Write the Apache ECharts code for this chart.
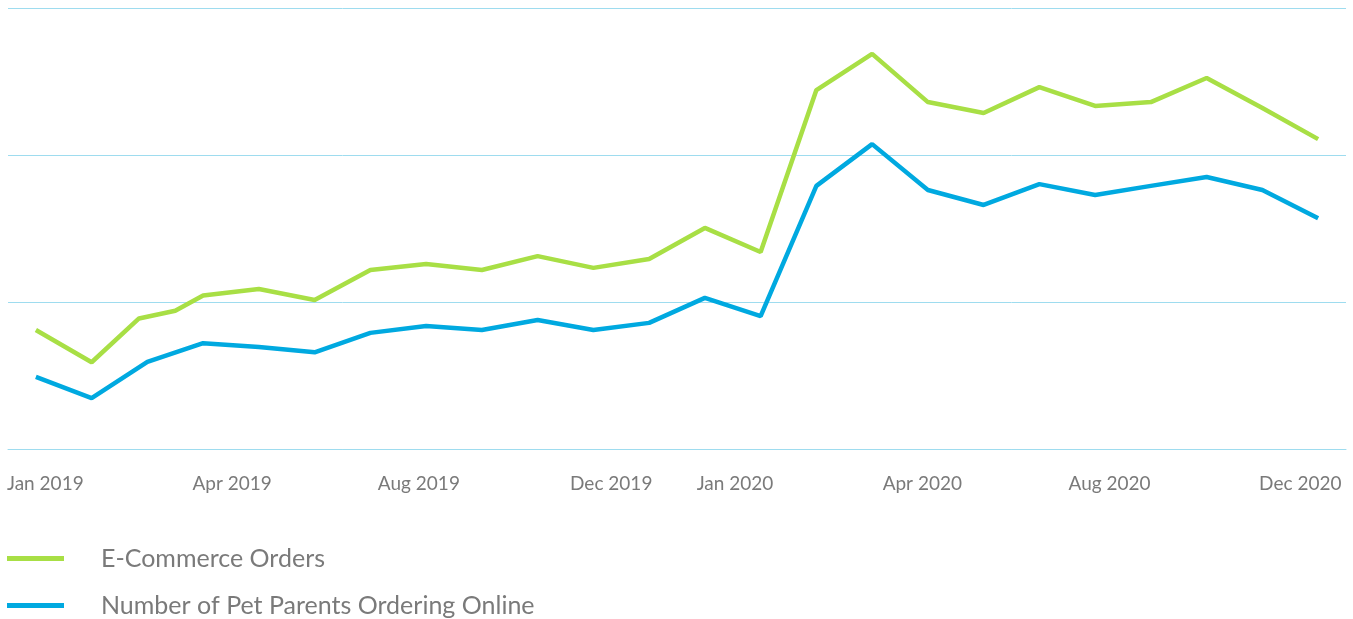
<!DOCTYPE html>
<html>
<head>
<meta charset="utf-8">
<script src="https://cdn.jsdelivr.net/npm/echarts@6/dist/echarts.min.js"></script>
<style>
  html, body { margin: 0; padding: 0; background: #fff; }
  #chart { width: 1353px; height: 619px; }
</style>
</head>
<body>
<div id="chart"></div>
<script>
// months since Jan 2019 (0 = Jan 2019, 23 = Dec 2020)
const ordersMonth = [0, 1, 1.85, 2.5, 3, 4, 5, 6, 7, 8, 9, 10, 11, 12, 13, 14, 15, 16, 17, 18, 19, 20, 21, 22, 23];
const ordersValue = [40.5, 29.5, 44.4, 47, 52.2, 54.4, 50.7, 60.9, 62.9, 60.9, 65.6, 61.6, 64.6, 75.2, 67.0, 122.1, 134.4, 118.0, 114.3, 123.1, 116.7, 118.0, 126.2, 116.0, 105.4];

const parentsMonth = [0, 1, 2, 3, 4, 5, 6, 7, 8, 9, 10, 11, 12, 13, 14, 15, 16, 17, 18, 19, 20, 21, 22, 23];
const parentsValue = [24.5, 17.3, 29.6, 36.0, 34.7, 32.9, 39.5, 41.8, 40.5, 43.9, 40.5, 42.9, 51.4, 45.2, 89.5, 103.7, 88.1, 83.0, 90.1, 86.4, 89.5, 92.5, 88.1, 78.5];

const tickLabels = ['Jan 2019', 'Apr 2019', 'Aug 2019', 'Dec 2019', 'Jan 2020', 'Apr 2020', 'Aug 2020', 'Dec 2020'];
// where the original chart puts each tick label, in months
const tickAt = [0.17, 3.52, 6.87, 10.32, 12.54, 15.9, 19.26, 22.68];

const seriesNames = ['E-Commerce Orders', 'Number of Pet Parents Ordering Online'];

const toPairs = (xs, ys) => xs.map((x, i) => [x, ys[i]]);

const gridBlue = '#9edcef';

const chart = echarts.init(document.getElementById('chart'));
chart.setOption({
  animation: false,
  color: ['#a8df45', '#00a9e0'],
  grid: { left: 8, right: 7, top: 8, bottom: 170 },
  legend: {
    orient: 'vertical',
    left: 7,
    top: 546,
    padding: 0,
    icon: 'rect',
    itemWidth: 57,
    itemHeight: 5,
    itemGap: 22,
    textStyle: {
      fontFamily: 'Lato',
      fontSize: 25,
      color: '#7a7a7a',
      padding: [0, 0, 0, 32]
    },
    data: seriesNames
  },
  xAxis: {
    type: 'value',
    min: -0.5,
    max: 23.5,
    axisLine: { show: true, lineStyle: { color: gridBlue, width: 1 } },
    axisTick: { show: false },
    splitLine: { show: false },
    axisLabel: {
      customValues: tickAt,
      margin: 25,
      fontFamily: 'Lato',
      fontSize: 19,
      color: '#7a7a7a',
      formatter: function (v) {
        let best = 0;
        tickAt.forEach((t, i) => {
          if (Math.abs(t - v) < Math.abs(tickAt[best] - v)) best = i;
        });
        return tickLabels[best];
      }
    }
  },
  yAxis: {
    type: 'value',
    min: 0,
    max: 150,
    interval: 50,
    axisLine: { show: false },
    axisTick: { show: false },
    axisLabel: { show: false },
    splitLine: { lineStyle: { color: gridBlue, width: 1 } }
  },
  series: [
    {
      name: seriesNames[0],
      type: 'line',
      data: toPairs(ordersMonth, ordersValue),
      showSymbol: false,
      lineStyle: { width: 4.5 }
    },
    {
      name: seriesNames[1],
      type: 'line',
      data: toPairs(parentsMonth, parentsValue),
      showSymbol: false,
      lineStyle: { width: 4.5 }
    }
  ]
});
</script>
</body>
</html>
